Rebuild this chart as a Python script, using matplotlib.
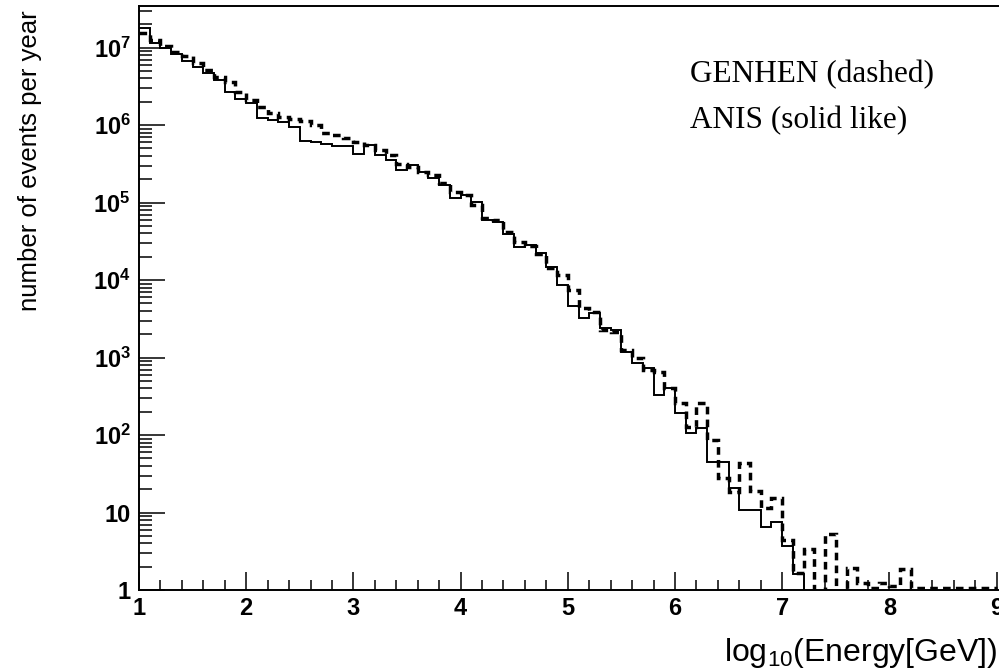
import numpy as np
import matplotlib
matplotlib.use("Agg")
import matplotlib.pyplot as plt
from matplotlib.ticker import FixedLocator, MultipleLocator, LogLocator, NullFormatter

plt.rcParams["mathtext.fontset"] = "custom"
plt.rcParams["mathtext.rm"] = "Liberation Sans"
plt.rcParams["mathtext.bf"] = "Liberation Sans:bold"
plt.rcParams["mathtext.it"] = "Liberation Sans:italic"

# histogram binning: log10(E/GeV) from 1 to 9, 0.1 wide bins
bin_lo = 1.0
bin_width = 0.1
n_bins = 80

# log10(events per year) per bin, ANIS (solid)
anis_log10 = [
    7.25, 7.06, 6.99, 6.92, 6.83, 6.75, 6.67, 6.58, 6.43, 6.34,
    6.28, 6.09, 6.06, 6.04, 5.97, 5.79, 5.78, 5.75, 5.73, 5.73,
    5.63, 5.74, 5.61, 5.55, 5.42, 5.48, 5.39, 5.32, 5.23, 5.06,
    5.10, 5.01, 4.77, 4.75, 4.59, 4.43, 4.45, 4.35, 4.17, 3.94,
    3.66, 3.51, 3.57, 3.38, 3.35, 3.07, 2.93, 2.86, 2.52, 2.61,
    2.28, 2.03, 2.09, 1.65, 1.65, 1.32, 1.03, 1.03, 0.81, 0.88,
    0.57, 0.21, -0.5, -0.5, -0.5, -0.5, -0.5, -0.5, -0.5, -0.5,
    -0.5, -0.5, -0.5, -0.5, -0.5, -0.5, -0.5, -0.5, -0.5, -0.5,
]

# log10(events per year) per bin, GENHEN (dashed)
genhen_log10 = [
    7.19, 7.10, 7.02, 6.94, 6.89, 6.80, 6.71, 6.62, 6.55, 6.43,
    6.32, 6.23, 6.15, 6.10, 6.08, 6.05, 6.00, 5.90, 5.87, 5.83,
    5.78, 5.74, 5.68, 5.61, 5.50, 5.46, 5.39, 5.35, 5.25, 5.14,
    5.10, 4.97, 4.80, 4.77, 4.62, 4.49, 4.44, 4.34, 4.15, 4.06,
    3.87, 3.64, 3.59, 3.35, 3.33, 3.10, 2.99, 2.84, 2.81, 2.61,
    2.41, 2.10, 2.41, 1.94, 1.45, 1.26, 1.64, 1.28, 1.06, 1.19,
    0.65, 0.22, 0.53, -0.5, 0.72, -0.5, 0.28, 0.09, 0.03, 0.09,
    0.05, 0.27, 0.03, 0.03, 0.03, 0.03, 0.03, 0.03, 0.03, 0.03,
]

x_major = [1, 2, 3, 4, 5, 6, 7, 8, 9]
y_major = [1, 10, 1e2, 1e3, 1e4, 1e5, 1e6, 1e7]
y_labels = ["1", "10"] + [r"$\mathbf{10^{%d}}$" % k for k in range(2, 8)]

edges = bin_lo + bin_width * np.arange(n_bins + 1)
anis = 10.0 ** np.array(anis_log10)
genhen = 10.0 ** np.array(genhen_log10)

W, H = 999, 672
fig = plt.figure(figsize=(W / 100, H / 100), dpi=100)
left_px, right_px, top_px, bot_px = 139, 1002, 6, 590
ax = fig.add_axes([left_px / W, 1 - bot_px / H, (right_px - left_px) / W, (bot_px - top_px) / H])

ax.stairs(anis, edges, baseline=None, color="black", linewidth=1.4)
ax.stairs(genhen, edges, baseline=None, color="black", linewidth=2.5,
          linestyle=(0, (2.2, 1.5)))

ax.set_yscale("log")
ax.set_xlim(1, 1 + (right_px - left_px) / 107.2)
ax.set_ylim(1, 10 ** ((bot_px - top_px) / 77.5))

ax.xaxis.set_major_locator(FixedLocator(x_major))
ax.xaxis.set_minor_locator(MultipleLocator(0.2))
ax.set_xticklabels([str(v) for v in x_major])
ax.yaxis.set_major_locator(FixedLocator(y_major))
ax.set_yticklabels(y_labels)
ax.yaxis.set_minor_locator(LogLocator(base=10, subs=np.arange(2, 10)))
ax.yaxis.set_minor_formatter(NullFormatter())

ax.tick_params(axis="x", which="major", direction="in", length=12.7, width=1.1, pad=5)
ax.tick_params(axis="x", which="minor", direction="in", length=7.5, width=1.1)
ax.tick_params(axis="y", which="major", direction="in", length=18.7, width=1.1, pad=6)
ax.tick_params(axis="y", which="minor", direction="in", length=9, width=1.1)
for lab in ax.get_xticklabels() + ax.get_yticklabels():
    lab.set_fontfamily("Liberation Sans")
    lab.set_fontweight("bold")
    lab.set_fontsize(17)

for s in ax.spines.values():
    s.set_linewidth(1.4)

fig.text(30 / W, 1 - 10 / H, "number of events per year", rotation=90,
         ha="center", va="top", fontsize=18.5, family="Liberation Sans")
fig.text(997 / W, 1 - 661 / H, r"log$_{10}$(Energy[GeV])", ha="right",
         va="baseline", fontsize=23, family="Liberation Sans")

fig.text(690 / W, 1 - 82 / H, "GENHEN (dashed)", ha="left", va="baseline",
         fontsize=22.5, family="Liberation Serif")
fig.text(690 / W, 1 - 128 / H, "ANIS (solid like)", ha="left", va="baseline",
         fontsize=22.5, family="Liberation Serif")

fig.savefig("out.png", dpi=100)
